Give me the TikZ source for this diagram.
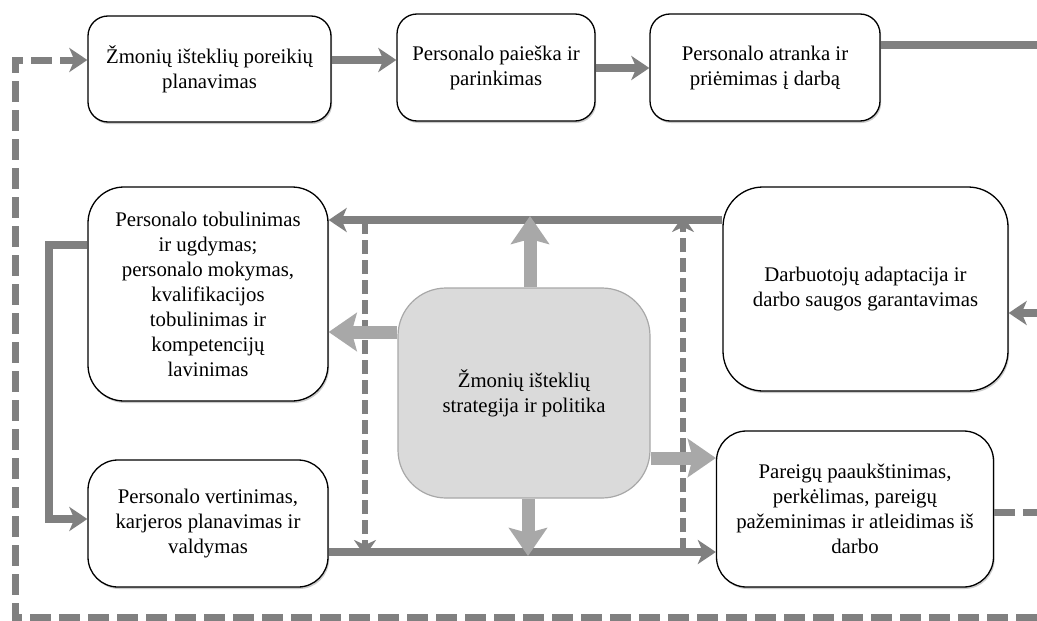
\documentclass[tikz,border=0pt]{standalone}
\usepackage{fontspec}
\setmainfont{Liberation Serif}
\usetikzlibrary{arrows.meta,shadows}

\definecolor{flow}{RGB}{128,128,128}
\definecolor{core}{RGB}{168,168,168}
\definecolor{corefill}{RGB}{218,218,218}

\begin{document}
\begin{tikzpicture}[x=1pt,y=-1pt,
  stage/.style={draw=black, line width=1.3pt, fill=white, rounded corners=#1,
    align=center, font=\rmfamily\fontsize{20.8}{25}\selectfont, inner sep=3pt,
    drop shadow={shadow xshift=1.2pt, shadow yshift=-2pt, fill=black!40, opacity=0.5}},
  stage/.default=20pt,
  hub/.style={draw=core, line width=1.2pt, fill=corefill, rounded corners=48pt,
    align=center, font=\rmfamily\fontsize{20.8}{25}\selectfont,
    minimum width=252pt, minimum height=210pt},
  flowline/.style={draw=flow, line width=7.5pt},
  flowarrow/.style={flowline, -{Stealth[length=18pt,width=24pt,inset=5pt]}},
  loopline/.style={draw=flow, line width=7pt, dash pattern=on 21pt off 8pt},
  loopdash/.style={draw=flow, line width=6.5pt, dash pattern=on 14pt off 6pt},
  looparrow/.style={loopline, -{Stealth[length=18pt,width=24pt,inset=5pt]}},
  innerarrow/.style={loopdash, -{Stealth[length=16pt,width=22pt,inset=5pt]}},
  corearrow/.style={draw=core, line width=13pt, -{Stealth[length=28pt,width=38pt,inset=5pt]}}
]
\useasboundingbox (0,0) rectangle (1037,621);
\clip (0,0) rectangle (1037,621);
\fill[white] (0,0) rectangle (1037,621);

% stages of the cycle
\node[stage, minimum width=243pt, minimum height=106pt] (plan) at (209.5,69)
  {Žmonių išteklių poreikių\\planavimas};
\node[stage, minimum width=198pt, minimum height=107pt] (search) at (496,67.5)
  {Personalo paieška ir\\parinkimas};
\node[stage, minimum width=230pt, minimum height=107pt] (select) at (765,67.5)
  {Personalo atranka ir\\priėmimas į darbą};
\node[stage=36pt, minimum width=240pt, minimum height=214pt] (develop) at (208,294)
  {Personalo tobulinimas\\ir ugdymas;\\personalo mokymas,\\kvalifikacijos\\tobulinimas ir\\kompetencijų\\lavinimas};
\node[stage=40pt, minimum width=285pt, minimum height=204pt] (adapt) at (865.5,289)
  {Darbuotojų adaptacija ir\\darbo saugos garantavimas};
\node[stage=30pt, minimum width=240pt, minimum height=127pt] (assess) at (208,523.5)
  {Personalo vertinimas,\\karjeros planavimas ir\\valdymas};
\node[stage=30pt, minimum width=277pt, minimum height=156pt] (move) at (855,509)
  {Pareigų paaukštinimas,\\perkėlimas, pareigų\\pažeminimas ir atleidimas iš\\darbo};

% strategy hub
\node[hub] (hub) at (524,393) {Žmonių išteklių\\strategija ir politika};

% junction points
\coordinate (jtopL) at (365,220);
\coordinate (jtopR) at (683,220);
\coordinate (jbotL) at (365,552);
\coordinate (jbotR) at (683,552);
\coordinate (rtop) at (1050,45);
\coordinate (rbot) at (1050,313);
\coordinate (lbend1) at (49,245);
\coordinate (lbend2) at (49,519);
\coordinate (oR1) at (1050,512);
\coordinate (oR2) at (1050,617);
\coordinate (oL1) at (15,617);
\coordinate (oL2) at (15,60);

% top row flow
\draw[flowarrow] (plan.east |- 0,60) -- (search.west |- 0,60);
\draw[flowarrow] (search.east |- 0,68) -- (select.west |- 0,68);
\draw[flowarrow] (select.east |- rtop) -- (rtop) -- (rbot) -- (adapt.east |- rbot);

% middle and lower flow
\draw[flowarrow] (adapt.west |- jtopR) -- (develop.east |- jtopR);
\draw[flowarrow] (develop.west |- lbend1) -- (lbend1) -- (lbend2) -- (assess.west |- lbend2);
\draw[flowarrow] (assess.east |- jbotL) -- (move.west |- jbotL);

% dashed cross links
\draw[innerarrow] (jtopL) -- ([yshift=-4pt]jbotL);
\draw[innerarrow] (jbotR) -- ([yshift=4pt]jtopR);

% hub arrows
\draw[corearrow] (hub.north -| 530,0) -- ([yshift=4pt]530,220);
\draw[corearrow] (hub.west |- 0,332) -- (develop.east |- 0,332);
\draw[corearrow] (hub.east |- 0,458) -- (move.west |- 0,458);
\draw[corearrow] (hub.south -| 528,0) -- ([yshift=-4pt]528,552);

% outer feedback loop
\draw[looparrow] (move.east |- oR1) -- (oR1) -- (oR2) -- (oL1) -- (oL2) -- (plan.west |- oL2);
\end{tikzpicture}
\end{document}
